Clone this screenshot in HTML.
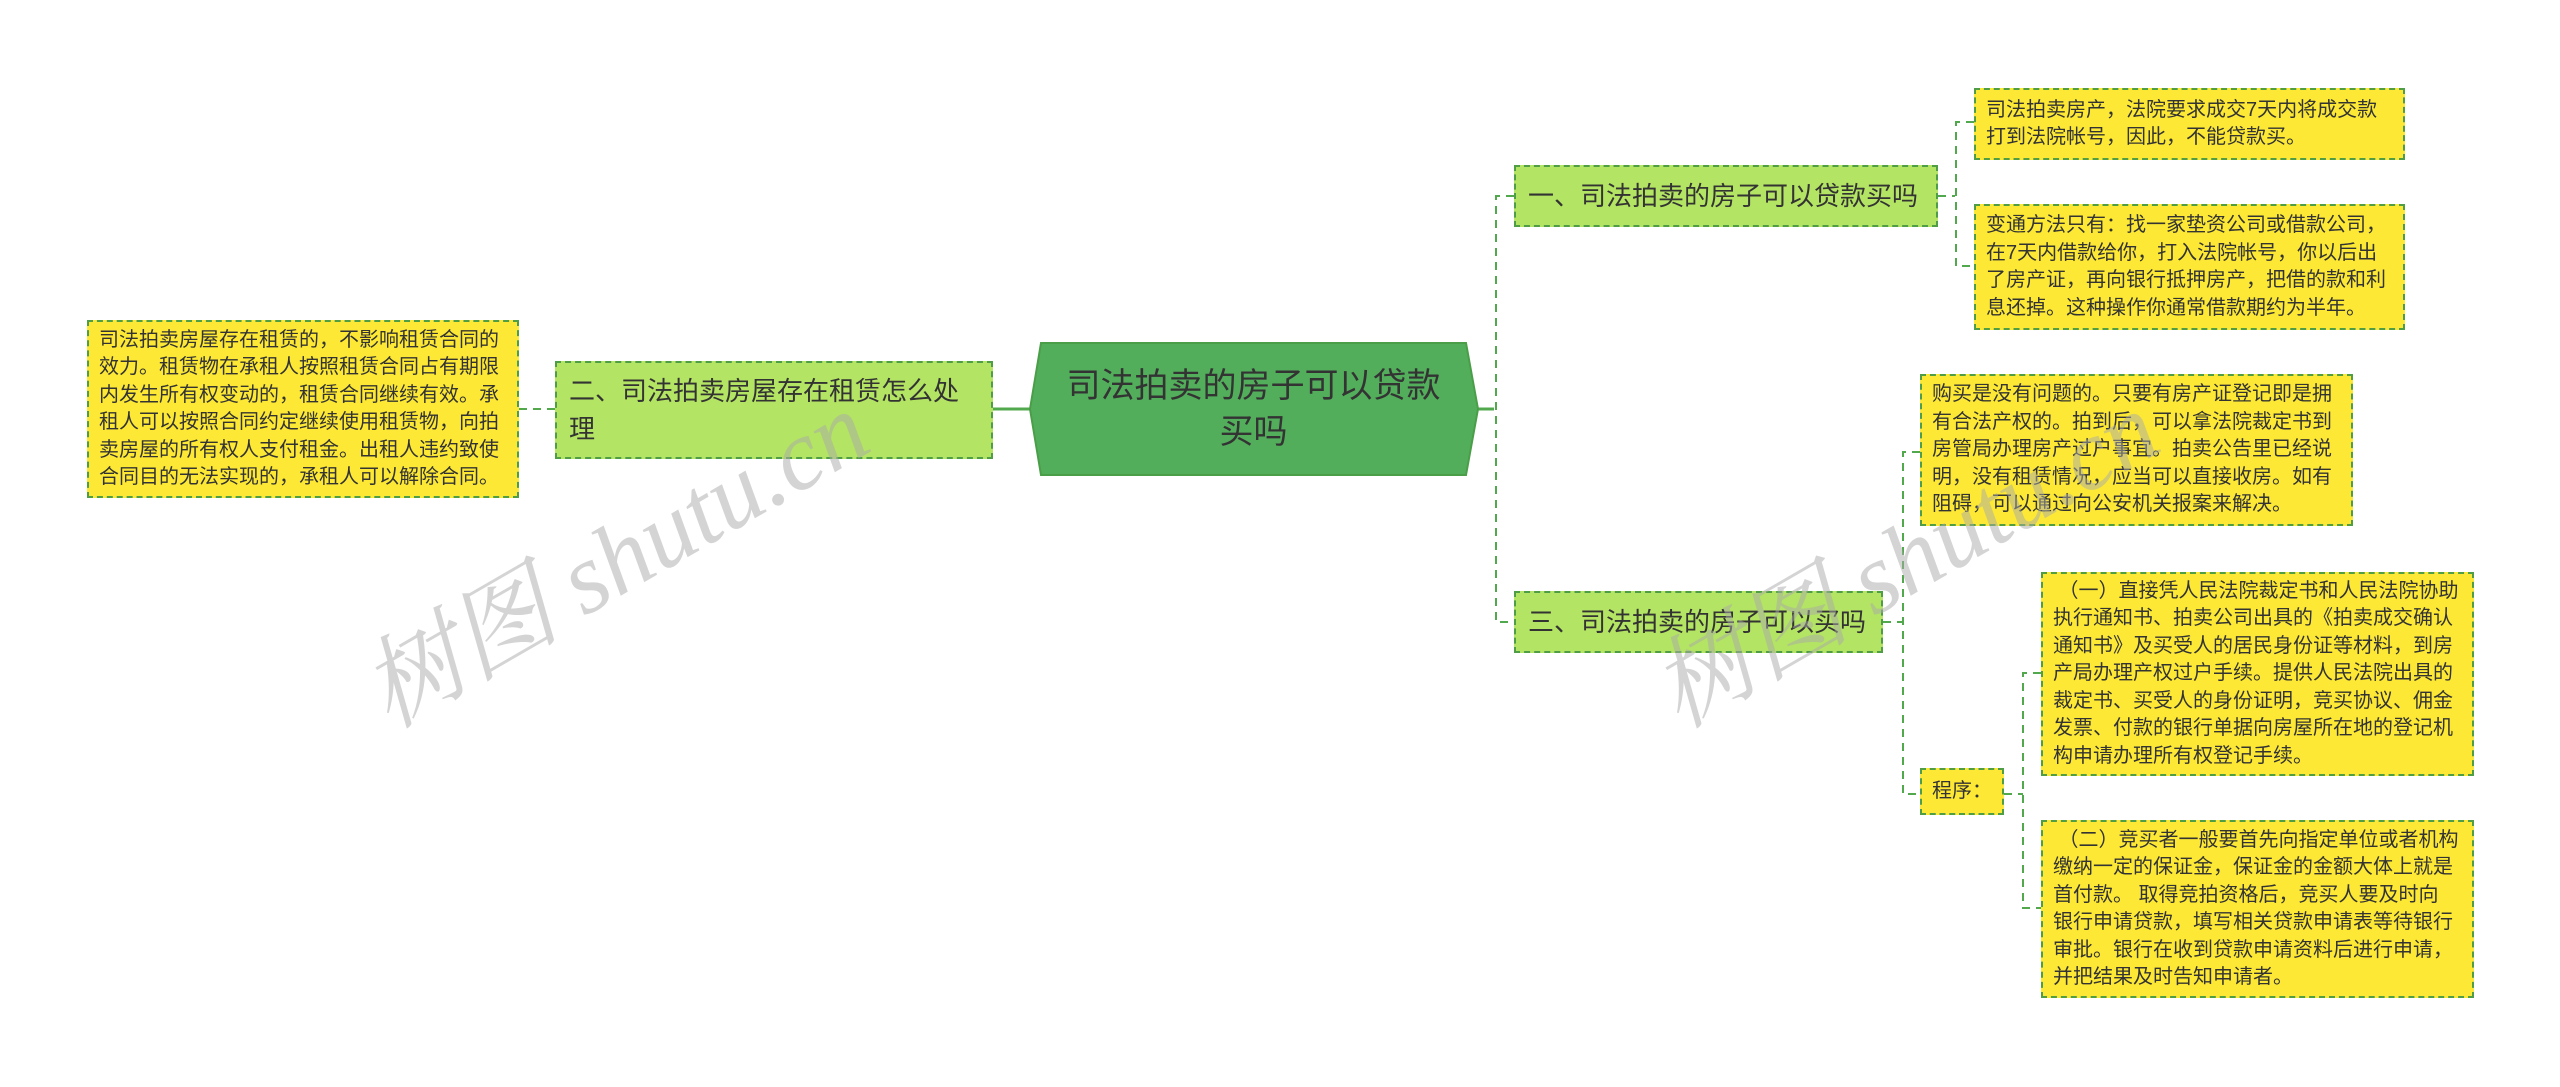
<!DOCTYPE html>
<html><head><meta charset="utf-8"><style>
body{margin:0;width:2560px;height:1087px;background:#fff;position:relative;overflow:hidden;font-family:"Liberation Sans","Noto Sans CJK SC",sans-serif;}
.n{position:absolute;box-sizing:border-box;border:2px dashed #4f9e45;color:#333;display:flex;align-items:center;}
.y{background:#fde935;font-size:20px;line-height:27.5px;padding:0 10px;}
.g{background:#b4e463;font-size:26px;line-height:38px;padding:0 12px;}
.wm{position:absolute;font-family:"Liberation Serif","Noto Serif CJK SC",serif;font-style:italic;font-size:100px;color:rgba(170,170,170,0.5);transform:rotate(-30deg);white-space:nowrap;}
</style></head><body>
<svg width="2560" height="1087" style="position:absolute;left:0;top:0">
<g stroke="#52a84c" stroke-width="2" fill="none">
<line x1="993" y1="409" x2="1030" y2="409" stroke-width="3"/>
<line x1="1478" y1="409" x2="1494" y2="409" stroke-width="3"/>
<g stroke-dasharray="8,6">
<line x1="519" y1="409" x2="555" y2="409"/>
<path d="M1514 196 H1496 V622 H1514"/>
<path d="M1938 196 H1955"/>
<path d="M1974 122 H1956 V266 H1974"/>
<path d="M1883 622 H1902"/>
<path d="M1920 452 H1903 V794 H1920"/>
<path d="M2004 794 H2023"/>
<path d="M2041 673 H2023 V908 H2041"/>
</g></g>
<polygon points="1030,409 1041,343 1466,343 1478,409 1466,475 1041,475" fill="#53ae5c" stroke="#4a9e48" stroke-width="2"/>
</svg>
<div style="position:absolute;left:1041px;top:343px;width:425px;height:132px;display:flex;align-items:center;justify-content:center;text-align:center;font-size:34px;line-height:46px;color:#333">司法拍卖的房子可以贷款<br>买吗</div>
<div class="n g" style="left:1514px;top:165px;width:424px;height:62px">一、司法拍卖的房子可以贷款买吗</div>
<div class="n g" style="left:1514px;top:591px;width:369px;height:62px">三、司法拍卖的房子可以买吗</div>
<div class="n g" style="left:555px;top:361px;width:438px;height:98px">二、司法拍卖房屋存在租赁怎么处理</div>
<div class="n y" style="left:87px;top:320px;width:432px;height:178px">司法拍卖房屋存在租赁的，不影响租赁合同的效力。租赁物在承租人按照租赁合同占有期限内发生所有权变动的，租赁合同继续有效。承租人可以按照合同约定继续使用租赁物，向拍卖房屋的所有权人支付租金。出租人违约致使合同目的无法实现的，承租人可以解除合同。</div>
<div class="n y" style="left:1974px;top:88px;width:431px;height:72px">司法拍卖房产，法院要求成交7天内将成交款打到法院帐号，因此，不能贷款买。</div>
<div class="n y" style="left:1974px;top:204px;width:431px;height:126px">变通方法只有：找一家垫资公司或借款公司，在7天内借款给你，打入法院帐号，你以后出了房产证，再向银行抵押房产，把借的款和利息还掉。这种操作你通常借款期约为半年。</div>
<div class="n y" style="left:1920px;top:374px;width:433px;height:152px">购买是没有问题的。只要有房产证登记即是拥有合法产权的。拍到后，可以拿法院裁定书到房管局办理房产过户事宜。拍卖公告里已经说明，没有租赁情况，应当可以直接收房。如有阻碍，可以通过向公安机关报案来解决。</div>
<div class="n y" style="left:1920px;top:768px;width:84px;height:47px">程序：</div>
<div class="n y" style="left:2041px;top:572px;width:433px;height:204px">&nbsp;（一）直接凭人民法院裁定书和人民法院协助执行通知书、拍卖公司出具的《拍卖成交确认通知书》及买受人的居民身份证等材料，到房产局办理产权过户手续。提供人民法院出具的裁定书、买受人的身份证明，竞买协议、佣金发票、付款的银行单据向房屋所在地的登记机构申请办理所有权登记手续。</div>
<div class="n y" style="left:2041px;top:820px;width:433px;height:178px"><div>&nbsp;（二）竞买者一般要首先向指定单位或者机构缴纳一定的保证金，保证金的金额大体上就是首付款。 取得竞拍资格后，竞买人要及时向<br>银行申请贷款，填写相关贷款申请表等待银行审批。银行在收到贷款申请资料后进行申请，<br>并把结果及时告知申请者。</div></div>
<div class="wm" style="left:330px;top:480px">树图 shutu.cn</div>
<div class="wm" style="left:1620px;top:480px">树图 shutu.cn</div>
</body></html>
